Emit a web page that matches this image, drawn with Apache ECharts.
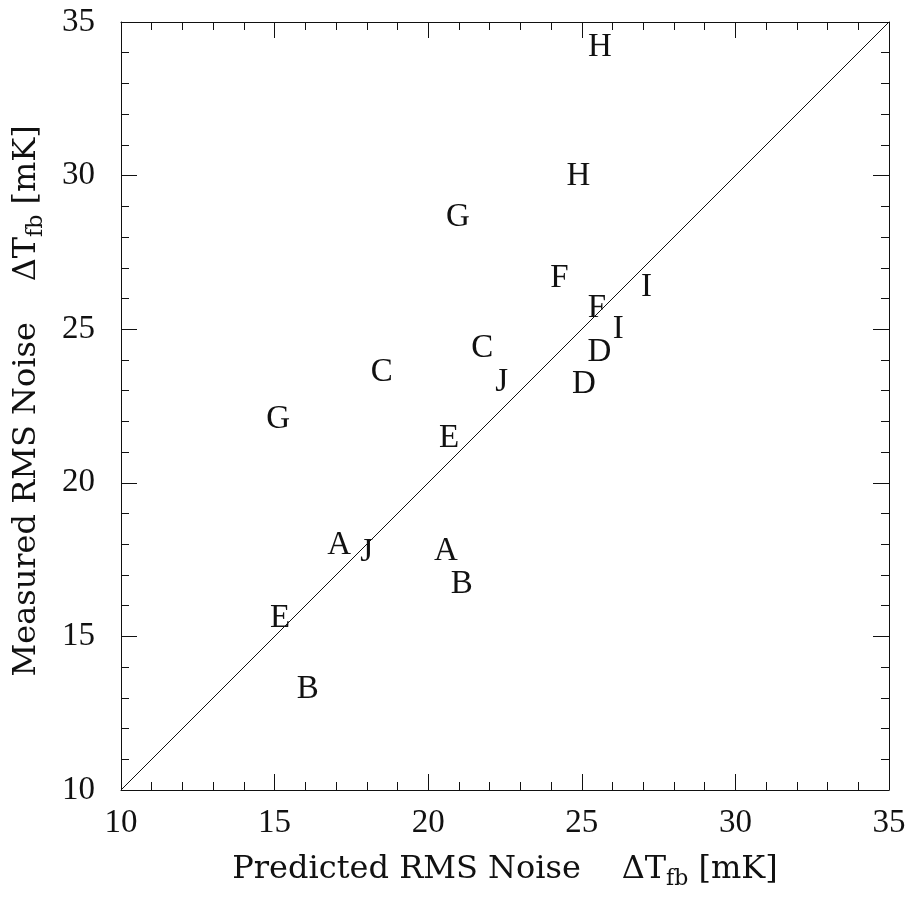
<!DOCTYPE html>
<html>
<head>
<meta charset="utf-8">
<script src="https://cdn.jsdelivr.net/npm/echarts@6/dist/echarts.min.js"></script>
<style>
html,body{margin:0;padding:0;background:#fff;}
#chart{width:910px;height:902px;}
</style>
</head>
<body>
<div id="chart"></div>
<script>
// Data
const letters   = ['H','H','G','G','F','F','I','I','C','C','J','J','D','D','E','E','A','A','B','B'];
const predicted = [25.59,24.89,20.97,15.12,24.27,25.49,27.11,26.19,21.76,18.49,22.39,18.00,25.57,25.07,20.68,15.18,17.10,20.58,21.09,16.08];
const measured  = [34.25,30.04,28.72,22.13,26.73,25.73,26.44,25.06,24.43,23.65,23.35,17.81,24.32,23.26,21.50,15.64,18.03,17.84,16.75,13.33];
const oneToOne  = [[10,10],[35,35]];
const xTicks = [10,15,20,25,30,35];
const yTicks = [10,15,20,25,30,35];

const ink = '#111';
const serif = '"Liberation Serif", serif';
const titleFont = '"DejaVu Serif", serif';

const pts = predicted.map((x,i)=>[x, measured[i]]);

function axisCommon(showLabels, margin){
  return {
    type:'value', min:10, max:35, interval:5,
    axisLine:{show:true, lineStyle:{color:ink, width:1}},
    axisTick:{show:true, inside:true, length:16, lineStyle:{color:ink, width:1}},
    minorTick:{show:true, splitNumber:5, length:8, lineStyle:{color:ink, width:1}},
    splitLine:{show:false},
    minorSplitLine:{show:false},
    axisLabel:{show:showLabels, color:ink, fontFamily:serif, fontSize:33, margin:margin||14},
  };
}

const titleRich = {
  t:{fontFamily:titleFont, fontSize:32, color:ink},
  s:{fontFamily:titleFont, fontSize:22, color:ink, padding:[18,0,0,0]}
};

const chart = echarts.init(document.getElementById('chart'), null, {renderer:'canvas'});
chart.setOption({
  backgroundColor:'#fff',
  animation:false,
  grid:{left:121, right:21, top:22, bottom:112, containLabel:false},
  xAxis:[
    Object.assign(axisCommon(true, 17), {
      position:'bottom',
      name:'{t|Predicted RMS Noise    ΔT}{s|fb}{t| [mK]}',
      nameLocation:'middle', nameGap:60,
      nameTextStyle:{rich:titleRich}
    }),
    Object.assign(axisCommon(false), {position:'top'})
  ],
  yAxis:[
    Object.assign(axisCommon(true, 26), {
      position:'left',
      name:'{t| Measured RMS Noise    ΔT}{s|fb}{t| [mK]}',
      nameLocation:'middle', nameGap:74,
      nameTextStyle:{rich:titleRich}
    }),
    Object.assign(axisCommon(false), {position:'right'})
  ],
  series:[
    {
      type:'line', data:oneToOne, symbol:'none', silent:true,
      lineStyle:{color:ink, width:1}, xAxisIndex:0, yAxisIndex:0
    },
    {
      type:'custom', data:pts, xAxisIndex:0, yAxisIndex:0, clip:false,
      renderItem:function(params, api){
        const p = api.coord([api.value(0), api.value(1)]);
        return {
          type:'text', x:p[0], y:p[1] + 2,
          style:{text:letters[params.dataIndex], fontFamily:serif, fontSize:33,
                 fill:ink, align:'center', verticalAlign:'middle'}
        };
      }
    }
  ]
});
</script>
</body>
</html>
